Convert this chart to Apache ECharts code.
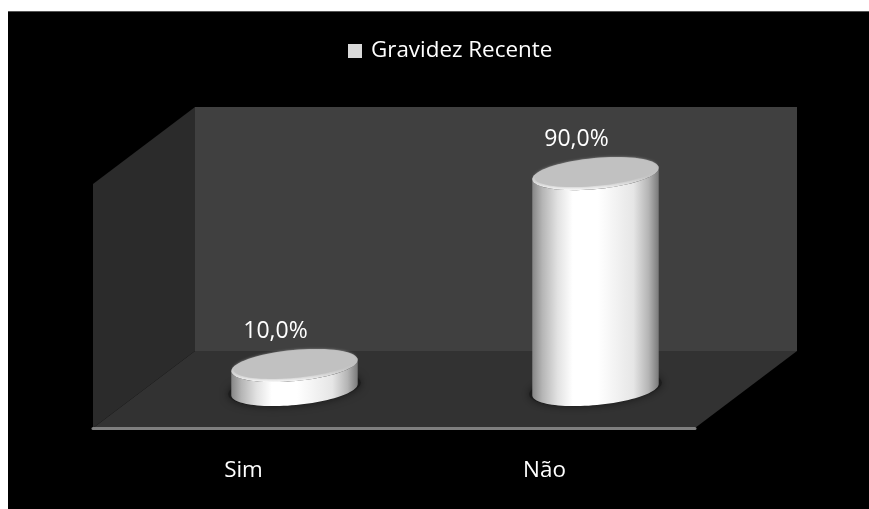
<!DOCTYPE html>
<html>
<head>
<meta charset="utf-8">
<script src="https://cdn.jsdelivr.net/npm/echarts@6/dist/echarts.min.js"></script>
<style>
html,body{margin:0;padding:0;background:#fff;width:869px;height:509px;overflow:hidden}
#plate{position:absolute;left:8px;top:11px;width:861px;height:498px;background:#000;box-sizing:border-box;border-top:1px solid #555}
#main{position:absolute;left:0;top:0;width:869px;height:509px}
</style>
</head>
<body>
<div id="plate"></div>
<div id="main"></div>
<script>
const seriesName = 'Gravidez Recente';
const categories = ['Sim', 'Não'];
const values = [10.0, 90.0];

const FONT = '"Open Sans", sans-serif';
const depthX = 102, depthY = -77;
const tilt = -5.4 * Math.PI / 180;

function ellipse(cx, cy, a, b, from, to, n) {
  const pts = [];
  for (let i = 0; i <= n; i++) {
    const t = from + (to - from) * i / n;
    const xp = a * Math.cos(t), yp = b * Math.sin(t);
    pts.push([cx + xp * Math.cos(tilt) - yp * Math.sin(tilt),
              cy + xp * Math.sin(tilt) + yp * Math.cos(tilt)]);
  }
  return pts;
}
function hGrad(stops) {
  return new echarts.graphic.LinearGradient(0, 0, 1, 0, stops.map(s => ({offset: s[0], color: s[1]})));
}
function vGrad(stops) {
  return new echarts.graphic.LinearGradient(0, 0, 0, 1, stops.map(s => ({offset: s[0], color: s[1]})));
}

function renderWalls(params) {
  const g = params.coordSys;
  const l = g.x, r = g.x + g.width, t = g.y, b = g.y + g.height;
  return {type: 'group', silent: true, children: [
    {type: 'polygon', shape: {points: [[l + depthX, t + depthY], [r + depthX, t + depthY], [r + depthX, b + depthY], [l + depthX, b + depthY]]}, style: {fill: '#404040'}},
    {type: 'polygon', shape: {points: [[l, t], [l + depthX, t + depthY], [l + depthX, b + depthY], [l, b]]}, style: {fill: '#2b2b2b'}},
    {type: 'polygon', shape: {points: [[l, b], [l + depthX, b + depthY], [r + depthX, b + depthY], [r, b]]}, style: {fill: '#323232'}}
  ]};
}

function renderCylinder(params, api) {
  const v = api.value(1);
  const base = api.coord([api.value(0), 0]);
  const top = api.coord([api.value(0), v]);
  const band = api.size([1, 0])[0];
  const a = band * 0.211, b = a * 0.245;
  const cx = base[0] + depthX / 2;
  const by = base[1] + depthY / 2;
  const ty = top[1] + depthY / 2;
  const body = ellipse(cx, by, a, b, Math.PI, 0, 48).concat(ellipse(cx, ty, a, b, 0, Math.PI, 48));
  return {type: 'group', children: [
    {type: 'polygon', shape: {points: ellipse(cx, by - 1, a + 3, b + 1, 0, 2 * Math.PI, 72)},
      style: {fill: '#1c1c1c', shadowBlur: 9, shadowColor: 'rgba(0,0,0,0.55)'}},
    {type: 'polygon', shape: {points: body},
      style: {fill: hGrad([[0, '#868686'], [0.08, '#b5b5b5'], [0.2, '#e2e2e2'], [0.32, '#ffffff'], [0.52, '#ffffff'], [0.8, '#e6e6e6'], [0.92, '#b4b4b4'], [1, '#7a7a7a']])}},
    {type: 'polygon', shape: {points: ellipse(cx, ty, a, b, 0, 2 * Math.PI, 72)},
      style: {fill: vGrad([[0, '#b4b4b4'], [0.6, '#c6c6c6'], [1, '#f8f8f8']])}},
    {type: 'polygon', shape: {points: ellipse(cx, ty - 1.2, a - 2.5, b - 2, 0, 2 * Math.PI, 72)},
      style: {fill: '#c1c1c1', shadowBlur: 3, shadowColor: '#c1c1c1'}},
    {type: 'text', style: {
      text: v.toFixed(1).replace('.', ',') + '%',
      x: cx - 19, y: ty - 34, align: 'center', verticalAlign: 'middle',
      fill: '#fff', font: '23px ' + FONT}}
  ]};
}

const chart = echarts.init(document.getElementById('main'), null, {renderer: 'canvas'});
chart.setOption({
  animation: false,
  backgroundColor: 'transparent',
  textStyle: {fontFamily: FONT},
  legend: {
    data: [{name: seriesName, icon: 'rect'}],
    left: 343, top: 35,
    itemWidth: 14, itemHeight: 14, itemGap: 12,
    selectedMode: false,
    textStyle: {color: '#fff', fontSize: 22.4, fontFamily: FONT, padding: [0, 0, 0, 4]}
  },
  grid: {left: 93, right: 174, top: 184, bottom: 81},
  xAxis: {
    type: 'category', data: categories, z: 5,
    axisTick: {show: false},
    axisLine: {lineStyle: {color: '#7f7f7f', width: 3}},
    axisLabel: {color: '#fff', fontSize: 22.4, fontFamily: FONT, margin: 32},
    splitLine: {show: false}
  },
  yAxis: {type: 'value', min: 0, max: 101.7, show: false, splitLine: {show: false}},
  series: [
    {type: 'custom', name: '__walls', coordinateSystem: 'cartesian2d', renderItem: renderWalls, data: [[0, 0]], silent: true, z: 1, clip: false},
    {type: 'custom', name: seriesName, coordinateSystem: 'cartesian2d', renderItem: renderCylinder,
      data: values.map((v, i) => [i, v]), encode: {x: 0, y: 1}, itemStyle: {color: '#d9d9d9'}, z: 3, clip: false}
  ]
});
</script>
</body>
</html>
